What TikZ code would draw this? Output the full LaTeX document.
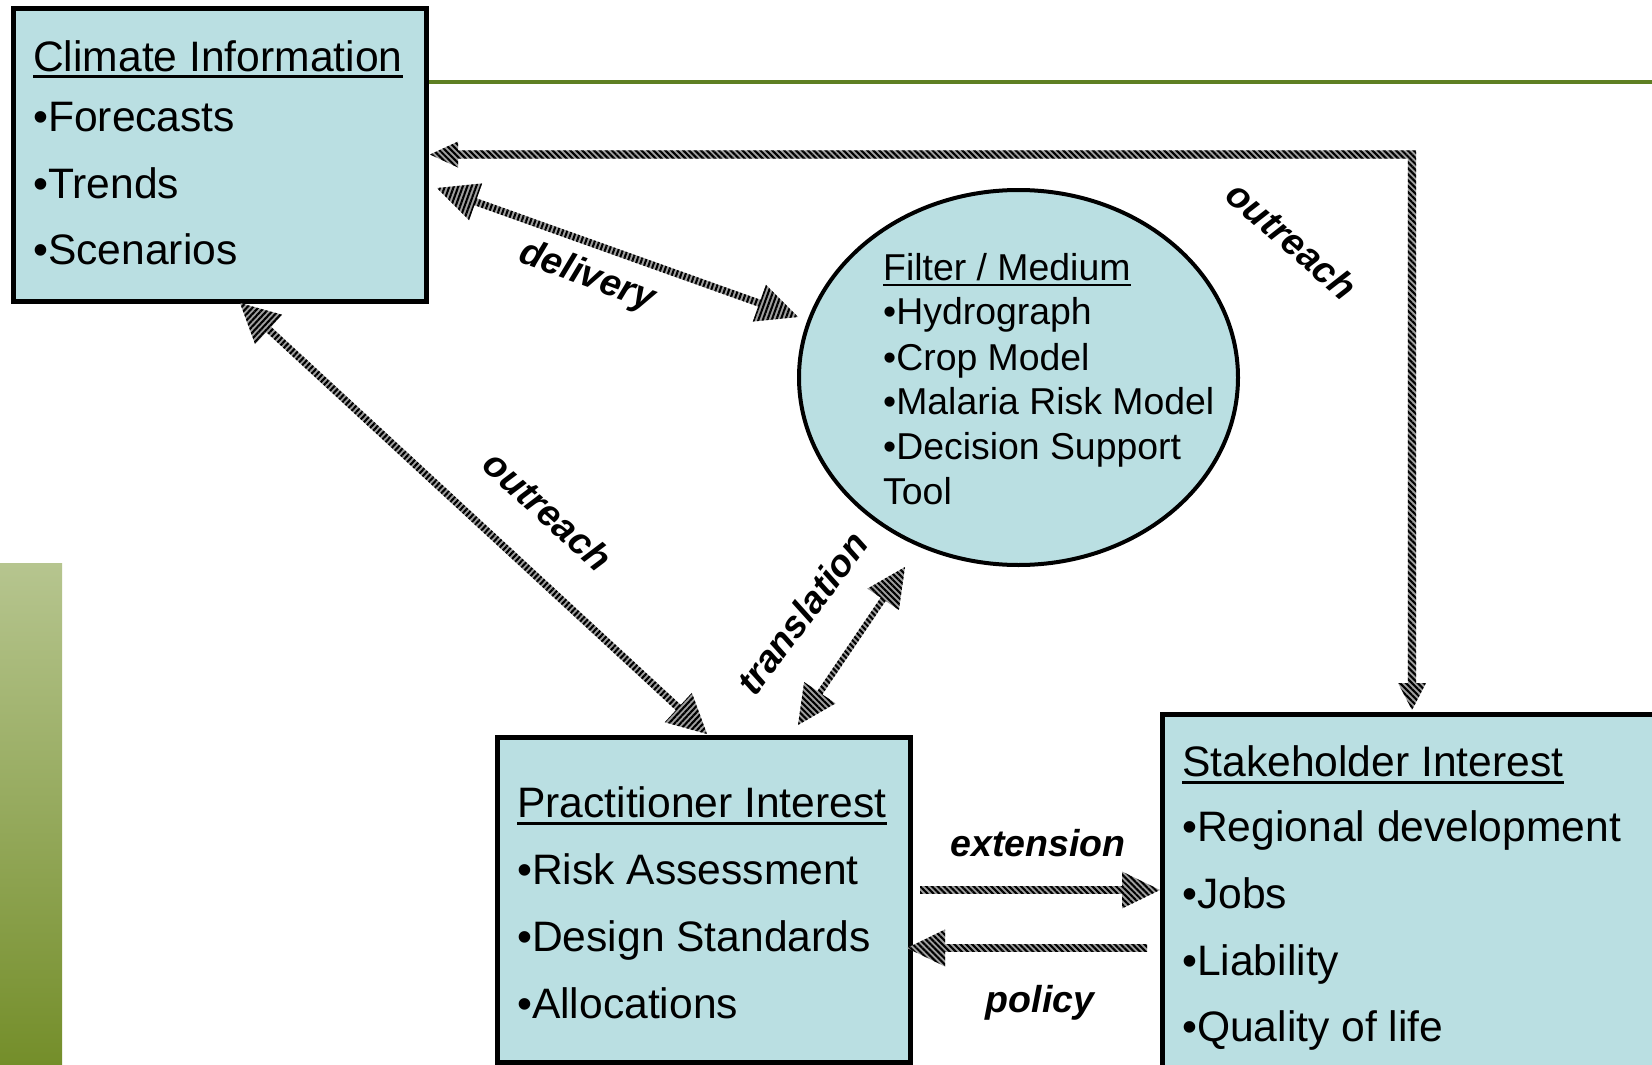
\documentclass[tikz,border=0pt]{standalone}
\usepackage{fontspec}
\setmainfont{Liberation Sans}
\usetikzlibrary{calc,patterns.meta,shapes.geometric}
\definecolor{boxfill}{HTML}{BADFE2}
\definecolor{stripegray}{HTML}{A0A0A0}
\definecolor{olivegreen}{HTML}{5E7F22}
\definecolor{bartop}{HTML}{B6C58F}
\definecolor{barbot}{HTML}{748E2A}
\tikzset{
  box/.style={draw=black, line width=5pt, fill=boxfill, rectangle, inner sep=0pt},
  ell/.style={draw=black, line width=4pt, fill=boxfill, ellipse, inner sep=0pt},
  big/.style={anchor=base west, inner sep=0pt, font=\fontsize{42.6}{50}\selectfont},
  small/.style={anchor=base west, inner sep=0pt, font=\fontsize{37.4}{44}\selectfont},
  lab/.style={inner sep=0pt, font=\fontsize{37.5}{44}\selectfont\bfseries\itshape},
  arrowfill/.style={preaction={fill=stripegray}, pattern={Lines[angle=#1,distance=4.2pt,line width=2.1pt]}, pattern color=black},
  arrowfill/.default=-45,
  uline/.style={line width=3pt},
  ulinesmall/.style={line width=2.5pt},
}
\newcommand\SingleArrow[6]{%
  \coordinate (hb) at ($(#2)!#5!(#1)$);
  \fill[arrowfill=#6] ($(#1)!#3!90:(#2)$) -- ($(hb)!#3!90:(#2)$) -- ($(hb)!#4!90:(#2)$) -- (#2)
    -- ($(hb)!#4!-90:(#2)$) -- ($(hb)!#3!-90:(#2)$) -- ($(#1)!#3!-90:(#2)$) -- cycle;
}
\newcommand\DoubleArrow[6]{%
  \coordinate (ha) at ($(#1)!#5!(#2)$);
  \coordinate (hb) at ($(#2)!#5!(#1)$);
  \fill[arrowfill=#6] (#1) -- ($(ha)!#4!90:(#2)$) -- ($(ha)!#3!90:(#2)$) -- ($(hb)!#3!90:(#2)$)
    -- ($(hb)!#4!90:(#2)$) -- (#2) -- ($(hb)!#4!-90:(#2)$) -- ($(hb)!#3!-90:(#2)$)
    -- ($(ha)!#3!-90:(#2)$) -- ($(ha)!#4!-90:(#2)$) -- cycle;
}
\begin{document}
\begin{tikzpicture}[x=1pt,y=-1pt]
\useasboundingbox (0,0) rectangle (1652,1065);
\fill[white] (0,0) rectangle (1652,1065);

% decoration
\shade[top color=bartop, bottom color=barbot] (0,563) rectangle (62,1065);

% boxes
\node[box, minimum width=413pt, minimum height=293pt] (climate) at (220,155) {};
\coordinate (gl) at (1652,82);
\draw[olivegreen, line width=4.5pt] (climate.east |- gl) -- (gl);
\node[ell, minimum width=439pt, minimum height=375pt] (filter) at (1018.5,377.5) {};
\node[box, minimum width=413pt, minimum height=324.5pt] (pract) at (704,899.75) {};
\node[box, minimum width=557.5pt, minimum height=395.5pt] (stake) at (1441.25,912.25) {};

% climate text
\node[big] (ci0) at (33,71) {Climate Information};
\node[big] (ci1) at (33,131) {•Forecasts};
\node[big] (ci2) at (33,198) {•Trends};
\node[big] (ci3) at (33,264) {•Scenarios};
\draw[uline] ($(ci0.base west)+(0,6)$) -- ($(ci0.base east)+(0,6)$);

% filter text
\node[small] (fm0) at (883,280) {Filter / Medium};
\node[small] (fm1) at (883,324) {•Hydrograph};
\node[small] (fm2) at (883,370) {•Crop Model};
\node[small] (fm3) at (883,414) {•Malaria Risk Model};
\node[small] (fm4) at (883,459) {•Decision Support};
\node[small] (fm5) at (883,504) {Tool};
\draw[ulinesmall] ($(fm0.base west)+(0,5)$) -- ($(fm0.base east)+(0,5)$);

% practitioner text
\node[big] (pi0) at (517,817) {Practitioner Interest};
\node[big] (pi1) at (517,884) {•Risk Assessment};
\node[big] (pi2) at (517,951) {•Design Standards};
\node[big] (pi3) at (517,1018) {•Allocations};
\draw[uline] ($(pi0.base west)+(0,6)$) -- ($(pi0.base east)+(0,6)$);

% stakeholder text
\node[big] (si0) at (1182,776) {Stakeholder Interest};
\node[big] (si1) at (1182,841) {•Regional development};
\node[big] (si2) at (1182,908) {•Jobs};
\node[big] (si3) at (1182,975) {•Liability};
\node[big] (si4) at (1182,1041) {•Quality of life};
\draw[uline] ($(si0.base west)+(0,6)$) -- ($(si0.base east)+(0,6)$);

% connector end points
\coordinate (dA) at (437,188);   \coordinate (dB) at (798,317);
\coordinate (oL1) at (240,303);  \coordinate (oL2) at (707,734);
\coordinate (tA) at (798,725);   \coordinate (tB) at (905,567);
\coordinate (eA) at (920,890);   \coordinate (eB) at (stake.west |- eA);
\coordinate (pA) at (1147,948);  \coordinate (pB) at (907,948);
\coordinate (oA) at (430,154.5); \coordinate (oB) at (1412,710);

% arrows
\DoubleArrow{dA}{dB}{3.6pt}{19.5pt}{41pt}{70}
\DoubleArrow{oL1}{oL2}{3.6pt}{20pt}{39pt}{47}
\DoubleArrow{tA}{tB}{3pt}{19pt}{39pt}{-45}
\SingleArrow{eA}{eB}{3.8pt}{18.5pt}{38pt}{-45}
\SingleArrow{pA}{pB}{3.8pt}{18.5pt}{38pt}{-45}
\fill[arrowfill=-45] (oA) -- ($(oA)+(28,-13)$) -- ($(oA)+(28,-4.2)$) -- ($(oB|-oA)+(4.2,-4.2)$)
  -- ($(oB)+(4.2,-27)$) -- ($(oB)+(14,-27)$) -- (oB) -- ($(oB)+(-14,-27)$) -- ($(oB)+(-4.2,-27)$)
  -- ($(oB|-oA)+(-4.2,4.2)$) -- ($(oA)+(28,4.2)$) -- ($(oA)+(28,13)$) -- cycle;

% labels
\node[lab, rotate=-20] (ldel) at (587,277) {delivery};
\node[lab, rotate=-41] (lout1) at (1292,240) {outreach};
\node[lab, rotate=-42] (lout2) at (548,511) {outreach};
\node[lab, rotate=53] (ltra) at (802,613) {translation};
\node[lab, anchor=base] (lext) at (1038,856) {extension};
\node[lab, anchor=base] (lpol) at (1040,1012) {policy};
\end{tikzpicture}
\end{document}
